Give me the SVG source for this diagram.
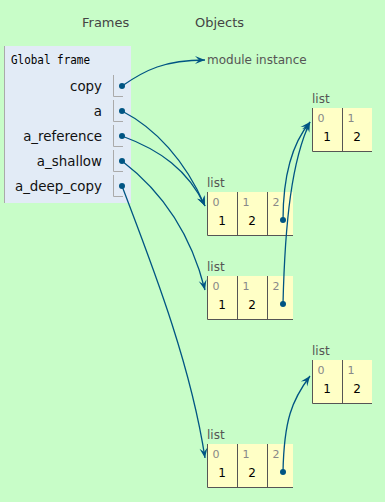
<svg xmlns="http://www.w3.org/2000/svg" width="385" height="502" viewBox="0 0 385 502">
  <style>
    .hdr { font-family: "DejaVu Sans", Verdana, sans-serif; font-size: 13px; fill: #444; }
    .ftitle { font-family: "DejaVu Sans Mono", "Liberation Mono", monospace; font-size: 12px; fill: #000; }
    .var { font-family: "DejaVu Sans", Verdana, sans-serif; font-size: 13.4px; fill: #111; text-anchor: end; }
    .cellline { stroke: #aaa; stroke-width: 1; fill: none; }
    .objlbl { font-family: "DejaVu Sans", Verdana, sans-serif; font-size: 12px; fill: #555; }
    .cell { fill: #ffffc6; }
    .bord { stroke: #555; stroke-width: 1; fill: none; }
    .idx { font-family: "DejaVu Sans", Verdana, sans-serif; font-size: 11px; fill: #888; }
    .val { font-family: "DejaVu Sans", Verdana, sans-serif; font-size: 12px; fill: #000; text-anchor: middle; }
    .dot { fill: #005583; }
    .conn { stroke: #005583; stroke-width: 1.3; fill: none; marker-end: url(#arrow); }
  </style>
  <defs>
    <marker id="arrow" viewBox="-11 -5 12 10" refX="0" refY="0" markerWidth="12" markerHeight="10" markerUnits="userSpaceOnUse" orient="auto">
      <path d="M0,0 L-10,-4 L-6,0 L-10,4 Z" fill="#005583"/>
    </marker>
  </defs>

  <rect x="0" y="0" width="385" height="502" fill="#c8fdc8"/>

  <text class="hdr" x="82" y="27">Frames</text>
  <text class="hdr" x="195" y="27">Objects</text>

  <!-- global frame -->
  <g id="global-frame">
    <rect x="4" y="46" width="127" height="157" fill="#e2ebf6"/>
    <line x1="4.5" y1="46" x2="4.5" y2="203" stroke="#aaa"/>
    <text class="ftitle" x="11" y="64" textLength="79" lengthAdjust="spacingAndGlyphs">Global frame</text>

    <text class="var" x="102" y="91">copy</text>
    <path class="cellline" d="M113.5,75 V96.5 H123"/>
    <circle class="dot" cx="122" cy="86" r="3"/>

    <text class="var" x="102" y="116">a</text>
    <path class="cellline" d="M113.5,100 V121.5 H123"/>
    <circle class="dot" cx="122" cy="111" r="3"/>

    <text class="var" x="102" y="141">a_reference</text>
    <path class="cellline" d="M113.5,125 V146.5 H123"/>
    <circle class="dot" cx="122" cy="136" r="3"/>

    <text class="var" x="102" y="166">a_shallow</text>
    <path class="cellline" d="M113.5,150 V171.5 H123"/>
    <circle class="dot" cx="122" cy="161" r="3"/>

    <text class="var" x="102" y="191">a_deep_copy</text>
    <path class="cellline" d="M113.5,175 V196.5 H123"/>
    <circle class="dot" cx="122" cy="186" r="3"/>
  </g>

  <!-- module object -->
  <g id="module">
    <text class="objlbl" x="207" y="64">module instance</text>
  </g>

  <!-- inner list shared by both outer lists -->
  <g id="list-inner" transform="translate(312,108)">
    <text class="objlbl" x="0" y="-5.5">list</text>
    <rect class="cell" x="0" y="0" width="60" height="44"/>
    <path class="bord" d="M0.5,0 V43.5 H60 M30.5,0 V43.5"/>
    <text class="idx" x="5.5" y="14">0</text>
    <text class="idx" x="35.5" y="14">1</text>
    <text class="val" x="15" y="33">1</text>
    <text class="val" x="45" y="33">2</text>
  </g>

  <!-- a / a_reference -->
  <g id="list-a" transform="translate(207,192)">
    <text class="objlbl" x="0" y="-5.5">list</text>
    <rect class="cell" x="0" y="0" width="86" height="44"/>
    <path class="bord" d="M0.5,0 V43.5 H86 M30.5,0 V43.5 M60.5,0 V43.5"/>
    <text class="idx" x="5.5" y="14">0</text>
    <text class="idx" x="35.5" y="14">1</text>
    <text class="idx" x="65.5" y="14">2</text>
    <text class="val" x="15" y="33">1</text>
    <text class="val" x="45" y="33">2</text>
    <circle class="dot" cx="76" cy="28" r="3"/>
  </g>

  <!-- a_shallow -->
  <g id="list-shallow" transform="translate(207,276)">
    <text class="objlbl" x="0" y="-5.5">list</text>
    <rect class="cell" x="0" y="0" width="86" height="44"/>
    <path class="bord" d="M0.5,0 V43.5 H86 M30.5,0 V43.5 M60.5,0 V43.5"/>
    <text class="idx" x="5.5" y="14">0</text>
    <text class="idx" x="35.5" y="14">1</text>
    <text class="idx" x="65.5" y="14">2</text>
    <text class="val" x="15" y="33">1</text>
    <text class="val" x="45" y="33">2</text>
    <circle class="dot" cx="76" cy="28" r="3"/>
  </g>

  <!-- deep copy inner list -->
  <g id="list-deep-inner" transform="translate(312,360)">
    <text class="objlbl" x="0" y="-5.5">list</text>
    <rect class="cell" x="0" y="0" width="60" height="44"/>
    <path class="bord" d="M0.5,0 V43.5 H60 M30.5,0 V43.5"/>
    <text class="idx" x="5.5" y="14">0</text>
    <text class="idx" x="35.5" y="14">1</text>
    <text class="val" x="15" y="33">1</text>
    <text class="val" x="45" y="33">2</text>
  </g>

  <!-- a_deep_copy -->
  <g id="list-deep" transform="translate(207,444)">
    <text class="objlbl" x="0" y="-5.5">list</text>
    <rect class="cell" x="0" y="0" width="86" height="44"/>
    <path class="bord" d="M0.5,0 V43.5 H86 M30.5,0 V43.5 M60.5,0 V43.5"/>
    <text class="idx" x="5.5" y="14">0</text>
    <text class="idx" x="35.5" y="14">1</text>
    <text class="idx" x="65.5" y="14">2</text>
    <text class="val" x="15" y="33">1</text>
    <text class="val" x="45" y="33">2</text>
    <circle class="dot" cx="76" cy="28" r="3"/>
  </g>

  <!-- pointers -->
  <g id="connectors">
    <path class="conn" d="M122,86 C145,70 165,60 205,60"/>
    <path class="conn" d="M122,111 C155,128 185,160 205,206"/>
    <path class="conn" d="M122,136 C160,150 188,170 205,206"/>
    <path class="conn" d="M122,161 C160,190 190,230 205,290"/>
    <path class="conn" d="M122,186 C150,260 190,360 205,458"/>
    <path class="conn" d="M283,220 C283,170 295,140 310,122"/>
    <path class="conn" d="M283,304 C285,220 292,160 310,122"/>
    <path class="conn" d="M283,472 C284,420 292,400 310,376"/>
  </g>
</svg>
